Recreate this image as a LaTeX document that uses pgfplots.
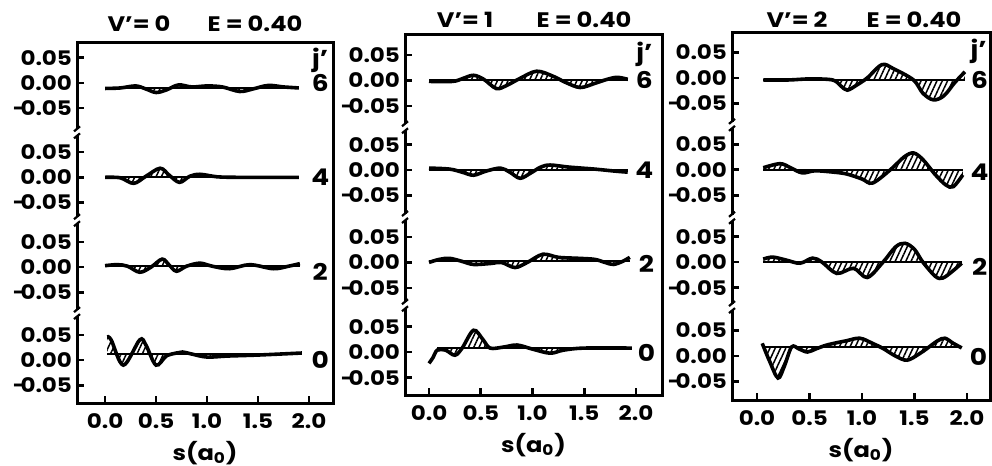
\documentclass[border=0pt]{standalone}
\usepackage{fontspec}
\setmainfont{Poppins}
\newfontfamily\tkf{Poppins}[FakeStretch=1.15]
\usepackage{pgfplots}
\pgfplotsset{compat=1.18}
\usepgfplotslibrary{fillbetween}
\usetikzlibrary{patterns.meta}
\newlength\px \setlength\px{0.5pt}
\newcommand{\mn}{-\kern-0.28em}

\pgfplotsset{
 panel/.style={
  scale only axis,
  axis line style={line width=1.5pt},
  xtick={0,0.5,1,1.5,2}, xticklabels={0.0,0.5,1.0,1.5,2.0},
  xtick pos=left, ytick pos=left,
  yticklabels={\mn0.05,0.00,0.05,\mn0.05,0.00,0.05,\mn0.05,0.00,0.05,\mn0.05,0.00,0.05},
  tick style={line width=1.3pt, black},
  major tick length=3.5pt,
  ticklabel style={font=\tkf\bfseries\fontsize{10}{12}\selectfont},
  yticklabel style={xshift=1pt},
  xticklabel style={yshift=-2pt},
  xlabel={s(a\textsubscript{0})},
  xlabel style={font=\tkf\bfseries\fontsize{10.5}{12}\selectfont, yshift=1pt},
  clip=false,
 },
 curve/.style={black, line width=1.8pt, smooth, tension=0.55},
 base/.style={black, line width=1pt},
 hatch/.style={draw=none, pattern={Lines[angle=65,distance=2.4pt,line width=0.75pt]}},
}
\newcommand{\subplot}[4]{%
 \addplot[curve, name path=c#4] table[row sep=\\, y expr=\thisrowno{1}+#1]{#2};
 \addplot[base, name path=b#4] table[row sep=\\, y expr=\thisrowno{1}+#1]{#3};
 \addplot[hatch] fill between[of=c#4 and b#4];
}
\newcommand{\brk}[2]{%
 \fill[white] ([shift={(-2.5\px,-3\px)}]axis cs:#1,#2) rectangle ([shift={(2.5\px,3\px)}]axis cs:#1,#2);
 \draw[line width=1.1pt] ([shift={(-3\px,-6\px)}]axis cs:#1,#2) -- ([shift={(3\px,-1\px)}]axis cs:#1,#2);
 \draw[line width=1.1pt] ([shift={(-3\px,1\px)}]axis cs:#1,#2) -- ([shift={(3\px,6\px)}]axis cs:#1,#2);
}
\newcommand{\lab}{\tkf\bfseries\fontsize{11.5}{13}\selectfont}
\newcommand{\ttl}{\tkf\bfseries\fontsize{10.5}{12}\selectfont}

\begin{document}
\begin{tikzpicture}
% titles
\node[font=\ttl] at (139\px,-24\px) {V’= 0};
\node[font=\ttl] at (255\px,-24\px) {E = 0.40};
\node[font=\ttl] at (465\px,-20\px) {V’= 1};
\node[font=\ttl] at (584\px,-20\px) {E = 0.40};
\node[font=\ttl] at (797\px,-20\px) {V’= 2};
\node[font=\ttl] at (914\px,-20\px) {E = 0.40};

% ---------------- panel v'=0 ----------------
\begin{axis}[panel, at={(77\px,-403\px)}, anchor=south west,
  width=256\px, height=361\px,
  xmin=-0.275, xmax=2.235, ymin=-0.085, ymax=0.630,
  ytick={-0.05,0,0.05,0.134,0.184,0.234,0.312,0.362,0.412,0.499,0.549,0.599}]
\subplot{0.549}{0.0 -0.011\\ 0.15 -0.010\\ 0.3 -0.006\\ 0.4 -0.012\\ 0.5 -0.019\\ 0.6 -0.014\\ 0.72 -0.004\\ 0.85 -0.008\\ 1.0 -0.006\\ 1.15 -0.008\\ 1.32 -0.017\\ 1.45 -0.012\\ 1.6 -0.005\\ 1.75 -0.008\\ 1.9 -0.010\\}{0.0 -0.010\\ 1.9 -0.010\\}{a6}
\subplot{0.362}{0.0 0.000\\ 0.15 -0.001\\ 0.28 -0.012\\ 0.40 0.002\\ 0.54 0.018\\ 0.63 0.004\\ 0.73 -0.010\\ 0.83 0.002\\ 0.93 0.006\\ 1.1 0.001\\ 1.3 0.000\\ 1.6 0.000\\ 1.9 0.000\\}{0.0 0.000\\ 1.9 0.000\\}{a4}
\subplot{0.184}{0.0 0.003\\ 0.12 0.005\\ 0.22 0.002\\ 0.34 -0.010\\ 0.45 0.000\\ 0.56 0.016\\ 0.63 0.004\\ 0.70 -0.008\\ 0.80 0.002\\ 0.93 0.008\\ 1.05 0.002\\ 1.22 -0.003\\ 1.42 0.005\\ 1.65 -0.003\\ 1.80 0.002\\ 1.91 0.007\\}{0.0 0.002\\ 1.91 0.002\\}{a2}
\subplot{0}{0.02 0.046\\ 0.06 0.040\\ 0.18 -0.010\\ 0.34 0.040\\ 0.40 0.030\\ 0.50 -0.010\\ 0.60 0.008\\ 0.70 0.014\\ 0.76 0.016\\ 0.85 0.012\\ 1.0 0.006\\ 1.2 0.008\\ 1.5 0.010\\ 1.93 0.014\\}{0.02 0.012\\ 1.93 0.012\\}{a0}
\node[font=\lab] at (axis cs:2.11,0.594) {j’};
\node[font=\lab] at (axis cs:2.11,0.549) {6};
\node[font=\lab] at (axis cs:2.11,0.362) {4};
\node[font=\lab] at (axis cs:2.11,0.174) {2};
\node[font=\lab] at (axis cs:2.11,0) {0};
\brk{-0.275}{0.451}\brk{-0.275}{0.277}\brk{-0.275}{0.093}
\end{axis}

% ---------------- panel v'=1 ----------------
\begin{axis}[panel, at={(405\px,-395\px)}, anchor=south west,
  width=257\px, height=360\px,
  xmin=-0.232, xmax=2.251, ymin=-0.084, ymax=0.622,
  ytick={-0.05,0,0.05,0.126,0.176,0.226,0.307,0.357,0.407,0.483,0.533,0.583}]
\subplot{0.533}{0.0 -0.002\\ 0.23 -0.002\\ 0.33 0.004\\ 0.43 0.010\\ 0.53 0.002\\ 0.65 -0.016\\ 0.75 -0.010\\ 0.88 0.004\\ 1.04 0.018\\ 1.2 0.008\\ 1.32 -0.004\\ 1.46 -0.014\\ 1.6 -0.006\\ 1.72 0.002\\ 1.82 0.006\\ 1.92 0.002\\}{0.0 0.000\\ 1.92 0.000\\}{b6}
\subplot{0.357}{0.0 0.004\\ 0.2 0.002\\ 0.32 -0.004\\ 0.43 -0.010\\ 0.55 -0.002\\ 0.69 0.004\\ 0.78 -0.004\\ 0.88 -0.016\\ 0.98 -0.006\\ 1.08 0.006\\ 1.17 0.010\\ 1.35 0.006\\ 1.6 0.002\\ 1.8 -0.002\\ 1.92 -0.004\\}{0.0 0.000\\ 1.92 0.000\\}{b4}
\subplot{0.176}{0.0 0.000\\ 0.1 0.006\\ 0.2 0.008\\ 0.32 0.002\\ 0.43 -0.004\\ 0.6 -0.002\\ 0.7 0.000\\ 0.83 -0.010\\ 0.95 0.000\\ 1.1 0.016\\ 1.25 0.010\\ 1.45 0.008\\ 1.6 0.006\\ 1.70 0.000\\ 1.78 -0.004\\ 1.87 0.002\\ 1.94 0.010\\}{0.0 0.002\\ 1.94 0.002\\}{b2}
\subplot{0}{0.0 -0.022\\ 0.04 -0.010\\ 0.08 0.004\\ 0.16 0.004\\ 0.25 -0.006\\ 0.32 0.008\\ 0.43 0.043\\ 0.52 0.025\\ 0.59 0.008\\ 0.72 0.010\\ 0.85 0.014\\ 1.0 0.006\\ 1.17 -0.002\\ 1.3 0.004\\ 1.5 0.008\\ 1.96 0.008\\}{0.08 0.008\\ 1.96 0.008\\}{b0}
\node[font=\lab] at (axis cs:2.08,0.584) {j’};
\node[font=\lab] at (axis cs:2.08,0.533) {6};
\node[font=\lab] at (axis cs:2.08,0.357) {4};
\node[font=\lab] at (axis cs:2.10,0.174) {2};
\node[font=\lab] at (axis cs:2.10,-0.002) {0};
\brk{-0.232}{0.441}\brk{-0.232}{0.265}\brk{-0.232}{0.092}
\end{axis}

% ---------------- panel v'=2 ----------------
\begin{axis}[panel, at={(732\px,-400\px)}, anchor=south west,
  width=258\px, height=367\px,
  xmin=-0.238, xmax=2.219, ymin=-0.086, ymax=0.633,
  ytick={-0.05,0,0.05,0.134,0.184,0.234,0.315,0.365,0.415,0.495,0.545,0.595}]
\subplot{0.545}{0.06 -0.004\\ 0.3 -0.004\\ 0.5 -0.002\\ 0.72 -0.004\\ 0.80 -0.016\\ 0.86 -0.024\\ 0.95 -0.014\\ 1.05 0.000\\ 1.19 0.026\\ 1.3 0.018\\ 1.49 -0.004\\ 1.58 -0.030\\ 1.68 -0.043\\ 1.78 -0.035\\ 1.88 -0.010\\ 1.98 0.012\\}{0.06 -0.004\\ 1.98 -0.004\\}{c6}
\subplot{0.365}{0.06 0.004\\ 0.22 0.012\\ 0.32 0.004\\ 0.43 -0.006\\ 0.55 -0.002\\ 0.70 -0.004\\ 0.85 -0.008\\ 1.0 -0.018\\ 1.1 -0.026\\ 1.27 0.000\\ 1.40 0.025\\ 1.49 0.033\\ 1.58 0.020\\ 1.70 -0.010\\ 1.80 -0.030\\ 1.87 -0.033\\ 1.96 -0.010\\}{0.06 0.000\\ 1.96 0.000\\}{c4}
\subplot{0.184}{0.06 0.006\\ 0.15 0.010\\ 0.28 0.004\\ 0.41 -0.002\\ 0.53 0.008\\ 0.62 0.000\\ 0.76 -0.022\\ 0.92 -0.012\\ 1.05 -0.030\\ 1.2 0.000\\ 1.32 0.030\\ 1.41 0.037\\ 1.50 0.025\\ 1.58 0.000\\ 1.70 -0.028\\ 1.77 -0.031\\ 1.86 -0.018\\ 1.95 -0.002\\}{0.06 0.000\\ 1.95 0.000\\}{c2}
\subplot{0}{0.05 0.025\\ 0.12 -0.010\\ 0.2 -0.043\\ 0.26 -0.020\\ 0.33 0.018\\ 0.40 0.014\\ 0.48 0.008\\ 0.56 0.014\\ 0.67 0.022\\ 0.85 0.030\\ 0.98 0.035\\ 1.1 0.025\\ 1.2 0.015\\ 1.32 0.000\\ 1.43 -0.008\\ 1.55 0.005\\ 1.62 0.015\\ 1.72 0.030\\ 1.79 0.035\\ 1.87 0.025\\ 1.95 0.016\\}{0.05 0.017\\ 1.95 0.017\\}{c0}
\node[font=\lab] at (axis cs:2.11,0.597) {j’};
\node[font=\lab] at (axis cs:2.12,0.540) {6};
\node[font=\lab] at (axis cs:2.12,0.361) {4};
\node[font=\lab] at (axis cs:2.12,0.174) {2};
\node[font=\lab] at (axis cs:2.11,-0.002) {0};
\brk{-0.238}{0.453}\brk{-0.238}{0.271}\brk{-0.238}{0.096}
\end{axis}
\pgfresetboundingbox
\useasboundingbox (0,0) rectangle (992\px,-466\px);
\end{tikzpicture}
\end{document}
